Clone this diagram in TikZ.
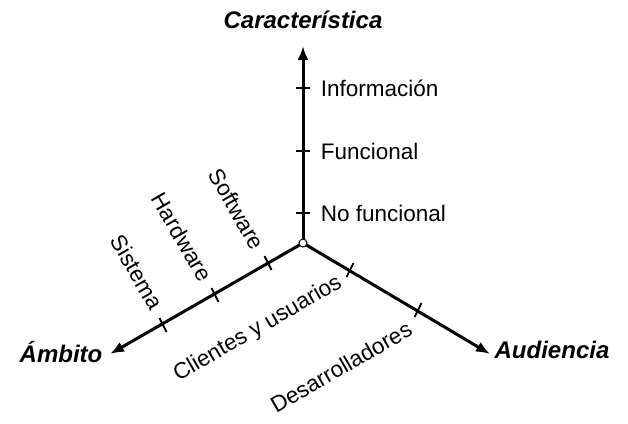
\documentclass[tikz,border=0pt]{standalone}
\usepackage{fontspec}
\setmainfont{Liberation Sans}
\usetikzlibrary{positioning,arrows.meta}
\begin{document}
\begin{tikzpicture}[x=1pt, y=-1pt, >={Latex[length=14pt,width=11pt]}, line width=3pt,
  tick/.style={line width=1.8pt},
  lbl/.style={font=\fontsize{22.5}{26}\selectfont},
  axis/.style={font=\fontsize{24}{28}\selectfont\bfseries\itshape}]

  \useasboundingbox (0,0) rectangle (628,423);

  % ejes
  \coordinate (o) at (303,243);
  \node[axis] (car) at (303,20) {Característica};
  \node[axis] (amb) at (61,352) {Ámbito};
  \node[axis] (aud) at (552,350) {Audiencia};
  \coordinate (top) at (303,46);
  \coordinate (left) at (110,354);
  \coordinate (right) at (490,354);
  \draw[->] (o) -- (top);
  \draw[->] (o) -- (left);
  \draw[->] (o) -- (right);
  \draw[fill=white, line width=1pt] (o) circle (4pt);

  % caracteristica
  \foreach \y/\t in {88/Información, 151/Funcional, 213/No funcional} {
    \draw[tick] (296,\y) -- (310,\y);
    \node[lbl, anchor=west] at (316,\y) {\t};
  }

  % ambito
  \foreach \x/\y/\t/\lx/\ly in {268/263/Software/237/209, 215/295/Hardware/182/237, 163/325/Sistema/137/272} {
    \draw[tick] (\x-3.5,\y-7) -- (\x+3.5,\y+7);
    \node[lbl, rotate=-60] at (\lx,\ly) {\t};
  }

  % audiencia
  \draw[tick] (346.5,277) -- (353.5,263);
  \draw[tick] (414.5,317) -- (421.5,303);
  \node[lbl, rotate=30] (cli) at (258,329) {Clientes y usuarios};
  \node[lbl, rotate=30] (des) at (341,367) {Desarrolladores};
\end{tikzpicture}
\end{document}
